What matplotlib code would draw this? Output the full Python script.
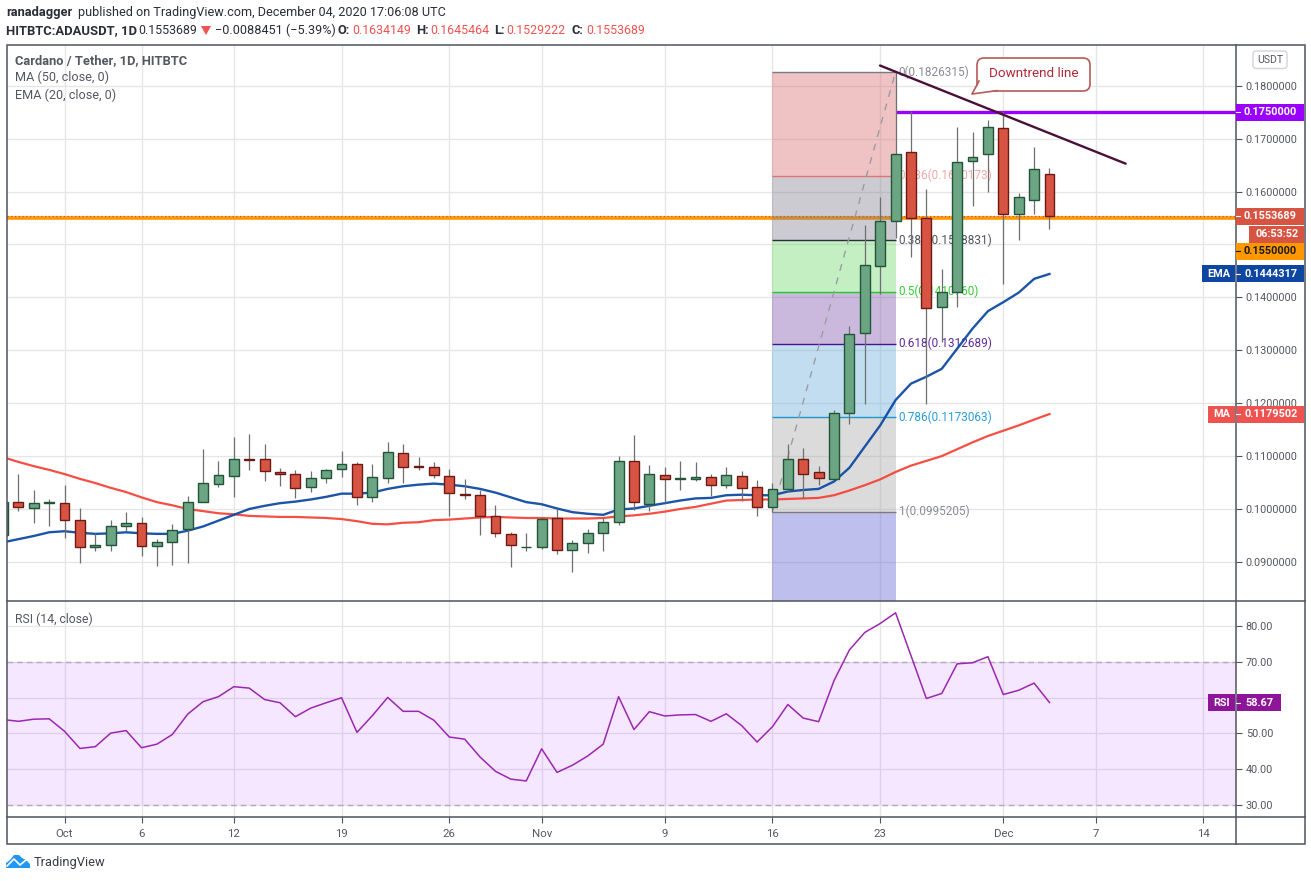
import matplotlib
matplotlib.use("Agg")
import matplotlib.pyplot as plt
from matplotlib.patches import Rectangle, FancyBboxPatch, Polygon

plt.rcParams['font.family'] = ['Roboto', 'DejaVu Sans']

# days counted from 1 October 2020
days = list(range(-4, 65))
opens = [.0951,.1013,.1002,.1011,.1011,.0979,.0928,.0932,.0968,.0974,.0930,.0938,.0962,.1013,.1047,.1062,.1095,.1095,.1070,.1066,.1042,.1059,.1076,.1085,.1023,.1059,.1106,.1081,.1079,.1062,.1028,.1026,.0987,.0953,.0928,.0928,.0983,.0923,.0936,.0955,.0975,.1091,.1009,.1064,.1057,.1057,.1060,.1045,.1062,.1042,.1004,.1038,.1095,.1070,.1056,.1181,.1333,.1460,.1545,.1675,.1551,.1381,.1411,.1658,.1672,.1721,.1557,.1585,.1634]
highs = [.1015,.1067,.1035,.1018,.1046,.1002,.0955,.0980,.0995,.0985,.0944,.0972,.1025,.1114,.1091,.1137,.1142,.1123,.1078,.1074,.1072,.1076,.1110,.1089,.1086,.1127,.1122,.1099,.1088,.1076,.1057,.1035,.1008,.0957,.0955,.0985,.1000,.0941,.0963,.0983,.1101,.1139,.1084,.1080,.1091,.1089,.1067,.1080,.1072,.1054,.1050,.1123,.1116,.1082,.1188,.1345,.1536,.1589,.1826,.1752,.1604,.1453,.1723,.1712,.1736,.1752,.1598,.1684,.1645]
lows = [.0950,.0997,.0973,.0967,.0946,.0897,.0920,.0920,.0958,.0912,.0892,.0895,.0897,.1013,.1041,.1022,.1074,.1052,.1043,.1020,.1032,.1050,.1060,.1007,.1013,.1050,.1050,.1073,.1059,.0987,.1018,.0950,.0948,.0890,.0920,.0924,.0914,.0880,.0916,.0920,.0969,.0999,.0996,.1011,.1035,.1052,.1025,.1039,.1015,.0986,.0994,.1032,.1021,.1045,.1056,.1161,.1199,.1407,.1513,.1477,.1199,.1316,.1381,.1573,.1599,.1426,.1509,.1557,.1529]
closes = [.1013,.1004,.1011,.1013,.0979,.0928,.0932,.0968,.0974,.0930,.0938,.0960,.1013,.1049,.1064,.1095,.1093,.1072,.1066,.1040,.1059,.1074,.1085,.1023,.1060,.1108,.1079,.1079,.1064,.1030,.1026,.0986,.0955,.0932,.0929,.0981,.0923,.0936,.0955,.0975,.1091,.1013,.1066,.1057,.1059,.1060,.1045,.1064,.1040,.1004,.1038,.1095,.1066,.1059,.1182,.1330,.1462,.1545,.1672,.1551,.1380,.1411,.1655,.1666,.1723,.1557,.1589,.1643,.1554]
ema20 = [.0937,.0943,.0949,.0956,.0958,.0955,.0953,.0954,.0956,.0954,.0953,.0953,.0959,.0967,.0978,.0989,.1000,.1006,.1011,.1014,.1018,.1023,.1029,.1029,.1031,.1038,.1043,.1046,.1048,.1046,.1043,.1038,.1031,.1022,.1013,.1009,.1001,.0994,.0991,.0989,.0999,.1001,.1006,.1011,.1016,.1020,.1021,.1026,.1027,.1026,.1026,.1033,.1036,.1038,.1052,.1078,.1118,.1158,.1206,.1237,.1250,.1265,.1303,.1341,.1374,.1391,.1409,.1435,.14443]
ma50 = [.1098,.1089,.1081,.1074,.1066,.1057,.1049,.1040,.1032,.1022,.1013,.1007,.1000,.0996,.0992,.0990,.0987,.0986,.0985,.0985,.0984,.0983,.0981,.0977,.0972,.0971,.0974,.0975,.0979,.0980,.0982,.0984,.0985,.0984,.0983,.0983,.0982,.0982,.0982,.0983,.0986,.0988,.0991,.0995,.1000,.1004,.1010,.1016,.1017,.1018,.1018,.1019,.1020,.1021,.1026,.1035,.1045,.1056,.1070,.1082,.1091,.1100,.1113,.1126,.1138,.1148,.1158,.1169,.11795]
rsi = [53.9,53.4,54.0,54.1,50.6,45.8,46.3,50.1,50.8,46.0,47.0,49.7,55.4,58.9,60.3,63.1,62.7,59.5,58.6,54.7,57.1,58.6,60.0,50.3,55.0,60.1,56.2,56.2,53.7,49.0,48.4,43.4,39.4,37.2,36.7,45.7,39.1,41.1,43.7,47.0,60.3,51.1,56.1,54.9,55.2,55.3,53.4,55.5,52.2,47.6,51.9,58.1,54.3,53.3,64.8,73.4,78.3,80.8,83.8,71.8,59.8,61.2,69.5,69.8,71.5,60.9,62.1,64.1,58.67]

date_ticks = [0, 5, 11, 18, 25, 31, 39, 46, 53, 61, 67, 74]
date_labels = ['Oct', '6', '12', '19', '26', 'Nov', '9', '16', '23', 'Dec', '7', '14']
price_ticks = [.09, .10, .11, .12, .13, .14, .15, .16, .17, .18]
rsi_ticks = [30, 40, 50, 60, 70, 80]

fib_start, fib_end = 46, 54
fib_prices = [.1826315, .1630173, .1508831, .1410760, .1312689, .1173063, .0995205]
fib_text = ['0.1826315', '0.1630173', '0.1508831', '0.1410760', '0.1312689', '0.1173063', '0.0995205']
fib_names = ['0', '0.236', '0.382', '0.5', '0.618', '0.786', '1']
fib_line_colors = ['#787b86', '#e57373', '#2a2e39', '#22cc22', '#4a148c', '#2196c8', '#787b86']
fib_text_colors = ['#8a8c95', '#f0a8a8', '#50525e', '#33cc33', '#5e2b9b', '#2a9dd8', '#8a8c95']
fib_fill_colors = ['#d96969', '#7d7d8c', '#69d969', '#7f52aa', '#66acd9', '#a5a5a5', '#6161d4']

resistance = .175
support = .155
last_price = .1553689
trend_days = [52.99, 68.95]
trend_prices = [.18383, .16528]

W, H = 1311, 881
GRID = '#e6e6e6'
FRAME = '#50535e'
TXT = '#555761'
TICK = 7.8

fig = plt.figure(figsize=(W / 100, H / 100), dpi=100, facecolor='white')
def pane(x0, y0, x1, y1):
    return fig.add_axes([x0 / W, 1 - y1 / H, (x1 - x0) / W, (y1 - y0) / H])
ax = pane(7, 45, 1236, 601)
ar = pane(7, 601, 1236, 817)
xlim = (-3.74, 76.12)
ybot = .08261

# ---------- price pane
ax.set_xlim(*xlim)
ax.set_ylim(ybot, .18771)
ax.set_yticks(price_ticks)
ax.set_yticklabels(['' if t == .15 else f'{t:.7f}' for t in price_ticks])
ax.set_xticks(date_ticks)
ax.tick_params(axis='x', length=0, labelbottom=False)
ax.yaxis.tick_right()
ax.tick_params(axis='y', length=4, width=.8, color=FRAME, labelsize=TICK, labelcolor=TXT, pad=3)
ax.grid(True, color=GRID, lw=1)
ax.set_axisbelow(True)
for s in ax.spines.values():
    s.set_visible(False)

ax.hlines(resistance, fib_end, xlim[1], color='#9900ff', lw=2.4, zorder=2)
ax.axhline(support, color='#ff9800', lw=2.6, zorder=1.5)
ax.axhline(last_price, color='#e0483a', lw=.9, ls=(0, (1, 2)), zorder=1.6)

# fib zones and levels
zone_tops = fib_prices
zone_bots = fib_prices[1:] + [ybot]
for top, bot, col in zip(zone_tops, zone_bots, fib_fill_colors):
    ax.fill_between([fib_start, fib_end], bot, top, color=col, alpha=.4, lw=0, zorder=1.8)
for name, p, txt, lc, tc in zip(fib_names, fib_prices, fib_text, fib_line_colors, fib_text_colors):
    ax.hlines(p, fib_start, fib_end, color=lc, lw=1, zorder=2)
    ax.text(fib_end + .2, p, f'{name}({txt})', color=tc, fontsize=8.5, va='center', ha='left', zorder=2.2)
ax.plot([fib_start, fib_end], [fib_prices[-1], fib_prices[0]], color='#9a9ca3', lw=1, ls=(0, (5, 5)), zorder=2.1)

ax.plot(days, ma50, color='#f5453a', lw=1.6, zorder=3, alpha=.95)
ax.plot(days, ema20, color='#0f4ba3', lw=1.7, zorder=3, alpha=.95)

# candles
for d, o, h, l, c in zip(days, opens, highs, lows, closes):
    up = c >= o
    ax.vlines(d, l, h, color='#6f6f72', lw=.9, zorder=4)
    ax.bar(d, abs(c - o), bottom=min(o, c), width=.64,
           color='#6ba583' if up else '#d75442',
           edgecolor='#225437' if up else '#6b1a16', lw=1.0, zorder=5)

ax.plot(trend_days, trend_prices, color='#4a1038', lw=1.7, zorder=6, solid_capstyle='round')

# ---------- RSI pane
ar.set_xlim(*xlim)
ar.set_ylim(26.6, 87.1)
ar.set_yticks(rsi_ticks)
ar.set_yticklabels(['' if t == 60 else f'{t:.2f}' for t in rsi_ticks])
ar.set_xticks(date_ticks)
ar.set_xticklabels(date_labels)
ar.yaxis.tick_right()
ar.tick_params(axis='y', length=4, width=.8, color=FRAME, labelsize=TICK, labelcolor=TXT, pad=3)
ar.tick_params(axis='x', length=4, width=.8, color=FRAME, labelsize=8.2, labelcolor=TXT, pad=4.5)
ar.grid(True, color=GRID, lw=1)
ar.set_axisbelow(True)
for s in ar.spines.values():
    s.set_visible(False)
ar.axhspan(30, 70, color='#9915ff', alpha=.1, lw=0, zorder=1.5)
for lvl in (30, 70):
    ar.axhline(lvl, color='#b7a6bd', lw=1, ls=(0, (4, 3)), zorder=2)
ar.plot(days, rsi, color='#9c27b0', lw=1.1, zorder=3)

# ---------- overlay in pixels: frame, badges, header
ov = fig.add_axes([0, 0, 1, 1], zorder=10)
ov.set_xlim(0, W)
ov.set_ylim(H, 0)
ov.axis('off')
ov.patch.set_visible(False)

ov.add_patch(Rectangle((7, 45), 1298, 799, fill=False, ec=FRAME, lw=1.1))
ov.plot([7, 1305], [601, 601], color=FRAME, lw=1.1)
ov.plot([7, 1305], [817, 817], color=FRAME, lw=1.1)
ov.plot([1236, 1236], [45, 844], color=FRAME, lw=1.1)

def ypx(axis, v):
    return H - axis.transData.transform((0, v))[1]

def badge(x0, x1, yc, col, text, tc='white', h=17, tick=None):
    ov.add_patch(Rectangle((x0, yc - h / 2), x1 - x0, h, fc=col, ec='none', zorder=3))
    ov.text((x0 + x1) / 2 + .5, yc, text, color=tc, fontsize=TICK, weight='bold', ha='center', va='center', zorder=4)
    if tick:
        ov.plot([1236, 1240], [yc, yc], color=tick, lw=.8, zorder=5)

y_res = ypx(ax, resistance)
y_last = ypx(ax, last_price)
y_sup = ypx(ax, support)
y_ema = ypx(ax, ema20[-1])
y_ma = ypx(ax, ma50[-1])
y_rsi = ypx(ar, rsi[-1])
badge(1236, 1304, y_res, '#9900ff', f'{resistance:.7f}', tick='white')
badge(1236, 1304, y_last, '#d75442', f'{last_price:.7f}', tick='white')
badge(1249, 1304, y_last + 18, '#d75442', '06:53:52')
badge(1236, 1304, y_last + 35, '#ff9800', f'{support:.7f}', tc='#1a1a1a', tick='#1a1a1a')
badge(1237, 1304, y_ema, '#0d47a1', '0.1444317', tick='white')
badge(1202, 1235, y_ema, '#0d47a1', 'EMA')
badge(1237, 1304, y_ma, '#ef5350', '0.1179502', tick='white')
badge(1208, 1235, y_ma, '#ef5350', 'MA')
badge(1237, 1281, y_rsi, '#8e1599', '58.67', tick='white')
badge(1208, 1235, y_rsi, '#8e1599', 'RSI')

# USDT button
ov.add_patch(FancyBboxPatch((1253, 51), 34, 17.5, boxstyle='round,pad=0,rounding_size=3', fc='white', ec='#d2d3dc', lw=1))
ov.text(1270, 60, 'USDT', color=TXT, fontsize=7.6, ha='center', va='center')

# callout
ov.add_patch(FancyBboxPatch((977, 58), 113, 33, boxstyle='round,pad=0,rounding_size=7', fc='white', ec='#b85a5a', lw=1.2))
ov.add_patch(Polygon([(980, 82), (972, 94), (997, 90.2), (995, 88)], closed=True, fc='white', ec='none', zorder=3))
ov.plot([979, 972, 997], [81, 94, 90.6], color='#b85a5a', lw=1.2, zorder=3.1)
ov.text(1034, 73.5, 'Downtrend line', color='#b02a35', fontsize=9.7, ha='center', va='center', zorder=4)

# pane captions
ov.text(15, 60.5, 'Cardano / Tether, 1D, HITBTC', color=TXT, fontsize=9.3, weight='bold', va='center')
ov.text(15, 77.5, 'MA (50, close, 0)', color=TXT, fontsize=9.1, va='center')
ov.text(15, 95, 'EMA (20, close, 0)', color=TXT, fontsize=9.1, va='center')
ov.text(15, 619, 'RSI (14, close)', color=TXT, fontsize=8.8, va='center')

# header
HD = '#2b2d36'
ov.text(6, 12.5, 'ranadagger', color=HD, fontsize=9.3, weight='bold', va='center')
ov.text(78, 12.5, 'published on TradingView.com, December 04, 2020 17:06:08 UTC', color=HD, fontsize=9.12, va='center')
RED = '#ef5350'
segments = [(6, 'HITBTC:ADAUSDT, 1D', HD, 'bold', 9.4), (138, '0.1553689', HD, 'normal', 8.9),
            (215, '\u22120.0088451 (\u22125.39%)', HD, 'normal', 9.1), (338, 'O:', HD, 'bold', 9.3),
            (352, '0.1634149', RED, 'normal', 8.9), (416, 'H:', HD, 'bold', 9.3), (430, '0.1645464', RED, 'normal', 8.9),
            (494, 'L:', HD, 'bold', 9.3), (506, '0.1529222', RED, 'normal', 8.9), (572, 'C:', HD, 'bold', 9.3),
            (586, '0.1553689', RED, 'normal', 8.9)]
for x, s, c, w, fs in segments:
    ov.text(x, 30.5, s, color=c, fontsize=fs, weight=w, va='center')
ov.add_patch(Polygon([(201, 26), (211, 26), (206, 35)], closed=True, fc=RED, ec='none'))

# logo
ov.add_patch(Polygon([(6, 868), (6, 863), (10, 860), (14, 855), (19, 855), (22, 858), (26, 860), (30, 864), (30, 868)],
                     closed=True, fc='#2196f3', ec='none'))
ov.plot([7, 14, 20, 26], [866, 859, 865, 860], color='white', lw=1.2)
ov.text(34, 862.5, 'TradingView', color='#3a3c45', fontsize=9.3, va='center')

fig.savefig('out.png', dpi=100, facecolor='white')
